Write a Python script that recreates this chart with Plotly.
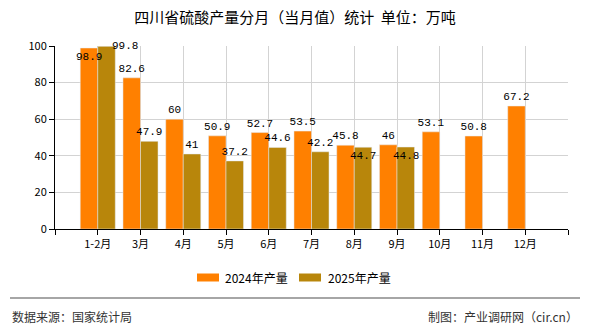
import plotly.graph_objects as go

categories = ["1-2月", "3月", "4月", "5月", "6月", "7月", "8月", "9月", "10月", "11月", "12月"]
values_2024 = [98.9, 82.6, 60, 50.9, 52.7, 53.5, 45.8, 46, 53.1, 50.8, 67.2]
values_2025 = [99.8, 47.9, 41, 37.2, 44.6, 42.2, 44.7, 44.8, None, None, None]
series_names = ["2024年产量", "2025年产量"]
series_colors = ["#FF8000", "#B8860B"]
y_ticks = [0, 20, 40, 60, 80, 100]

# labels that the original chart moved to avoid overlaps: (series index, category index)
moved_inside = [(0, 0), (1, 6), (1, 7)]
moved_side = [(1, 0)]

# plot box in pixels (for paper-coordinate helpers)
W, H = 590, 330
L, R, T, B = 55, 22, 46, 101
PW, PH = W - L - R, H - T - B

def px(xp):
    return (xp - L) / PW

def py(yp):
    return (H - B - yp) / PH

xpos = list(range(len(categories)))
tickvals = [-1] + xpos + [len(categories)]
ticktext = [""] + categories + [""]

def fmt(v):
    return "" if v is None else ("%g" % v)

lab_font = dict(family="Liberation Mono, Noto Sans CJK SC", size=11, color="#000")
all_vals = [values_2024, values_2025]
skip = set(moved_inside) | set(moved_side)

fig = go.Figure()
for s, vals in enumerate(all_vals):
    txt = ["" if (s, i) in skip else fmt(v) for i, v in enumerate(vals)]
    fig.add_trace(go.Bar(
        x=xpos, y=vals, name=series_names[s], marker_color=series_colors[s],
        text=txt, textposition="outside", cliponaxis=False, textangle=0,
        textfont=lab_font, outsidetextfont=lab_font, showlegend=False,
    ))

bar_half = PW / (len(categories) + 1) * 0.205  # pixel offset of each bar from category centre
annotations = []
for (s, i) in moved_inside:
    annotations.append(dict(x=xpos[i], y=all_vals[s][i], xref="x", yref="y", text=fmt(all_vals[s][i]),
                            showarrow=False, xshift=(-1 if s == 0 else 1) * bar_half, yshift=-9,
                            font=lab_font, xanchor="center", yanchor="middle"))
for (s, i) in moved_side:
    annotations.append(dict(x=xpos[i], y=all_vals[s][i], xref="x", yref="y", text=fmt(all_vals[s][i]),
                            showarrow=False, xshift=27, yshift=0,
                            font=lab_font, xanchor="center", yanchor="middle"))

# custom legend (swatch + label) under the plot
shapes = []
leg_items = [(197, 223), (299, 326)]
for s, (sx, tx) in enumerate(leg_items):
    shapes.append(dict(type="rect", xref="paper", yref="paper", x0=px(sx), x1=px(sx + 22),
                       y0=py(281.5), y1=py(273.5), fillcolor=series_colors[s], line=dict(width=0)))
    annotations.append(dict(text=series_names[s], xref="paper", yref="paper", x=px(tx), y=py(277.5),
                            xanchor="left", yanchor="middle", showarrow=False,
                            font=dict(size=12, color="#000")))

shapes.append(dict(type="line", xref="paper", yref="paper", x0=px(10), x1=px(580),
                   y0=py(298), y1=py(298), line=dict(color="#888", width=1.5)))
annotations += [
    dict(text="数据来源：国家统计局", xref="paper", yref="paper", x=px(10), y=py(316),
         xanchor="left", yanchor="middle", showarrow=False, font=dict(size=12, color="#333")),
    dict(text="制图：产业调研网（cir.cn）", xref="paper", yref="paper", x=px(580), y=py(316),
         xanchor="right", yanchor="middle", showarrow=False, font=dict(size=12, color="#333")),
]

fig.update_layout(
    width=W, height=H,
    margin=dict(l=L, r=R, t=T, b=B),
    paper_bgcolor="white", plot_bgcolor="white",
    barmode="group", bargap=0.18, bargroupgap=0,
    uniformtext=dict(minsize=11, mode="show"),
    font=dict(family="Noto Sans CJK SC, sans-serif", size=11, color="#000"),
    title=dict(text="四川省硫酸产量分月（当月值）统计  单位：万吨", x=0.5, xanchor="center",
               y=1 - 18 / H, yanchor="middle", font=dict(size=15, color="#000")),
    showlegend=False,
    xaxis=dict(range=[-1, len(categories)], tickmode="array", tickvals=tickvals, ticktext=ticktext,
               showgrid=True, gridcolor="#d3d3d3", gridwidth=1,
               showline=True, linecolor="#000", linewidth=1,
               ticks="outside", ticklen=5, tickcolor="#000", zeroline=False,
               tickfont=dict(size=11, color="#000")),
    yaxis=dict(range=[0, 100], tickmode="array", tickvals=y_ticks,
               showgrid=True, gridcolor="#d3d3d3", gridwidth=1,
               showline=True, linecolor="#000", linewidth=1,
               ticks="outside", ticklen=5, tickcolor="#000", zeroline=False,
               tickfont=dict(size=11, color="#000")),
    shapes=shapes,
    annotations=annotations,
)

fig.write_html("out.html")
